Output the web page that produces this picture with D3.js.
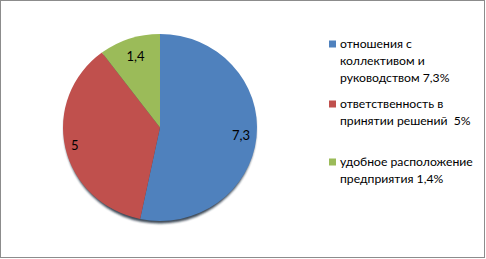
<!DOCTYPE html>
<meta charset="utf-8">
<head>
<script src="https://d3js.org/d3.v7.min.js"></script>
<style>
body { margin: 0; background: #fff; }
text { font-family: Lato, "Open Sans", sans-serif; font-size: 13px; fill: #000; }
.legend text { font-size: 12.2px; white-space: pre; }
</style>
</head>
<body>
<div id="chart"></div>
<script>
// data
var legendLines = [["отношения с", "коллективом и", "руководством 7,3%"],
                   ["ответственность в", "принятии решений  5%"],
                   ["удобное расположение", "предприятия 1,4%"]];
var values = [7.3, 5, 1.4];
var labels = ["7,3", "5", "1,4"];
var colors = ["#4F81BD", "#C0504D", "#9BBB59"];

var W = 486, H = 259;
var cx = 160, cy = 127.5, rx = 97, ry = 93.5;

var svg = d3.select("#chart").append("svg")
    .attr("width", W).attr("height", H);

// frame
svg.append("rect")
    .attr("x", 0.5).attr("y", 0.5)
    .attr("width", W - 2).attr("height", H - 2)
    .attr("fill", "#fff")
    .attr("stroke", "#8c8c8c")
    .attr("stroke-width", 1);

var defs = svg.append("defs");
defs.append("filter").attr("id", "blur")
  .append("feGaussianBlur").attr("stdDeviation", 1.2);

// shadow below the pie
svg.append("ellipse")
    .attr("cx", cx).attr("cy", cy + 2.5)
    .attr("rx", rx - 1).attr("ry", ry)
    .attr("fill", "#1f2a3a")
    .attr("opacity", 0.85)
    .attr("filter", "url(#blur)");

var pie = d3.pie().sort(null).value(function(d) { return d; });
var arcs = pie(values);

var arc = d3.arc().innerRadius(0).outerRadius(rx);

var g = svg.append("g")
    .attr("transform", "translate(" + cx + "," + cy + ") scale(1," + (ry / rx) + ")");

g.selectAll("path.slice")
  .data(arcs)
  .enter().append("path")
    .attr("class", "slice")
    .attr("d", arc)
    .attr("fill", function(d, i) { return colors[i]; });

// value labels near the rim
var labelR = [0.84, 0.9, 0.8];
svg.selectAll("text.val")
  .data(arcs)
  .enter().append("text")
    .attr("class", "val")
    .attr("x", function(d, i) {
      var a = (d.startAngle + d.endAngle) / 2;
      return cx + Math.sin(a) * rx * labelR[i];
    })
    .attr("y", function(d, i) {
      var a = (d.startAngle + d.endAngle) / 2;
      return cy - Math.cos(a) * ry * labelR[i];
    })
    .attr("dy", "0.35em")
    .attr("text-anchor", "middle")
    .text(function(d, i) { return labels[i]; });

// legend
var legendTop = [44, 104, 162];
var legend = svg.selectAll("g.legend")
  .data(legendLines)
  .enter().append("g")
    .attr("class", "legend")
    .attr("transform", function(d, i) { return "translate(329," + legendTop[i] + ")"; });

legend.append("rect")
    .attr("x", 0).attr("y", -3.5)
    .attr("width", 7).attr("height", 7)
    .attr("fill", function(d, i) { return colors[i]; });

legend.each(function(lines) {
  var t = d3.select(this).append("text");
  lines.forEach(function(s, k) {
    t.append("tspan")
        .attr("x", 11)
        .attr("y", k * 17)
        .attr("dy", "0.35em")
        .text(s);
  });
});
</script>
</body>
</html>
